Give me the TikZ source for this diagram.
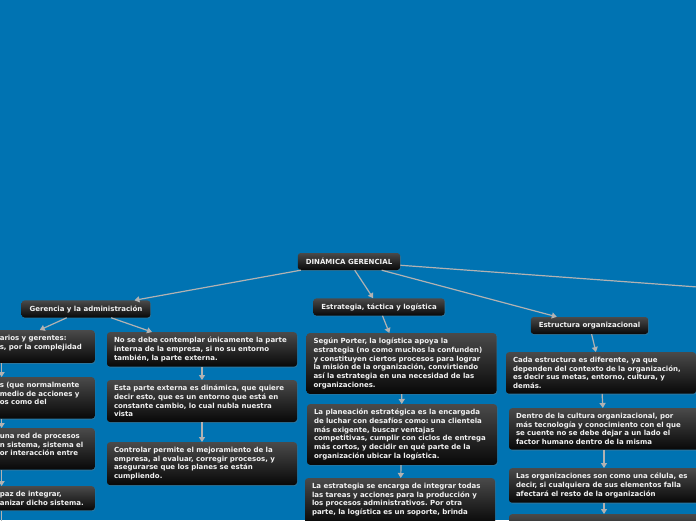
\documentclass[tikz,border=0pt]{standalone}
\usepackage{fontspec}
\setmainfont{DejaVu Sans}
\frenchspacing
\usepackage{tikz}
\usetikzlibrary{positioning,arrows.meta,shadows,calc}
\definecolor{mapblue}{RGB}{0,115,178}
\definecolor{boxtop}{RGB}{74,74,74}
\definecolor{boxbottom}{RGB}{8,8,8}
\definecolor{linkgray}{RGB}{178,178,178}
\definecolor{txtwhite}{RGB}{242,242,242}

\begin{document}
\begin{tikzpicture}[x=1pt, y=-1pt,
    every node/.style={font=\bfseries\fontsize{7}{8.7}\selectfont, text=txtwhite},
    topicBox/.style={rectangle, rounded corners=3pt, top color=boxtop, bottom color=boxbottom, draw=none, inner xsep=8pt, inner ysep=5pt, minimum height=17pt, drop shadow={shadow xshift=0.6pt, shadow yshift=-0.9pt, opacity=0.35}},
    noteBox/.style={topicBox, text width=176pt, align=left, inner xsep=7pt, anchor=north},
    cutBox/.style={noteBox, text width=88pt, anchor=north east},
    link/.style={draw=linkgray, line width=1.2pt, -{Triangle[width=6pt,length=5pt]}}
]
    \clip (0,0) rectangle (696,520);
    \fill [mapblue] (0,0) rectangle (696,520);

    \node [topicBox] (root) at (349,261.5) {DINÁMICA GERENCIAL};
    \coordinate (offR) at (800,294.5);

    \node [topicBox] (ger) at (86,309) {Gerencia y la administración};
    \node [topicBox] (est) at (379,307) {Estrategia, táctica y logística};
    \node [topicBox] (estr) at (589.5,325.5) {Estructura organizacional};

    % left column, cut by the page edge
    \node [cutBox] (lA) at (95,330) {arios y gerentes:\\s, por la complejidad\\\mbox{}};
    \node [cutBox] (lB) at (95,377) {s (que normalmente\\medio de acciones y\\os como del\\\mbox{}};
    \node [cutBox] (lC) at (95,428) {una red de procesos\\n sistema, sistema el\\or interacción entre\\\mbox{}};
    \node [cutBox] (lD) at (95,486) {paz de integrar,\\anizar dicho sistema.};

    \node [noteBox] (gA) at (202,332) {No se debe contemplar únicamente la parte\\interna de la empresa, si no su entorno\\también, la parte externa.};
    \node [noteBox] (gB) at (202,380) {Esta parte externa es dinámica, que quiere\\decir esto, que es un entorno que está en\\constante cambio, lo cual nubla nuestra\\vista};
    \node [noteBox] (gC) at (202,442) {Controlar permite el mejoramiento de la\\empresa, al evaluar, corregir procesos, y\\asegurarse que los planes se están\\cumpliendo.};

    \node [noteBox] (eA) at (401.5,333) {Según Porter, la logística apoya la\\estrategia (no como muchos la confunden)\\y constituyen ciertos procesos para lograr\\la misión de la organización, convirtiendo\\así la estrategia en una necesidad de las\\organizaciones.};
    \node [noteBox] (eB) at (402,404) {La planeación estratégica es la encargada\\de luchar con desafíos como: una clientela\\más exigente, buscar ventajas\\competitivas, cumplir con ciclos de entrega\\más cortos, y decidir en qué parte de la\\organización ubicar la logística.};
    \node [noteBox, text depth=30pt] (eC) at (400,478) {La estrategia se encarga de integrar todas\\las tareas y acciones para la producción y\\los procesos administrativos. Por otra\\parte, la logística es un soporte, brinda};

    \node [noteBox] (sA) at (601,352) {Cada estructura es diferente, ya que\\dependen del contexto de la organización,\\es decir sus metas, entorno, cultura, y\\demás.};
    \node [noteBox] (sB) at (604,408) {Dentro de la cultura organizacional, por\\más tecnología y conocimiento con el que\\se cuente no se debe dejar a un lado el\\factor humano dentro de la misma};
    \node [noteBox] (sC) at (604,468) {Las organizaciones son como una célula, es\\decir, si cualquiera de sus elementos falla\\afectará el resto de la organización};
    \node [noteBox, text depth=20pt] (sD) at (604,514) {};

    \path [link] (root) -- (ger);
    \path [link] (root) -- (est);
    \path [link] (root) -- (estr);
    \path [draw=linkgray, line width=1.2pt] (root) -- (offR);

    \path [link] (ger) -- ($(lA.north west)!0.46!(lA.north east)$);
    \path [link] (ger) -- (gA);
    \path [link] ([xshift=9pt]lA.south west) -- ([xshift=9pt]lB.north west);
    \path [link] ([xshift=9pt]lB.south west) -- ([xshift=9pt]lC.north west);
    \path [link] ([xshift=9pt]lC.south west) -- ([xshift=9pt]lD.north west);
    \path [draw=linkgray, line width=1.2pt] ([xshift=9pt]lD.south west) -- ++(0,14);
    \path [link] (gA) -- (gB);
    \path [link] (gB) -- (gC);

    \path [link] (est) -- (eA);
    \path [link] (eA) -- (eB);
    \path [link] (eB) -- (eC);

    \path [link] (estr) -- (sA);
    \path [link] (sA) -- (sB);
    \path [link] (sB) -- (sC);
    \path [link] (sC) -- (sD);
\end{tikzpicture}
\end{document}
